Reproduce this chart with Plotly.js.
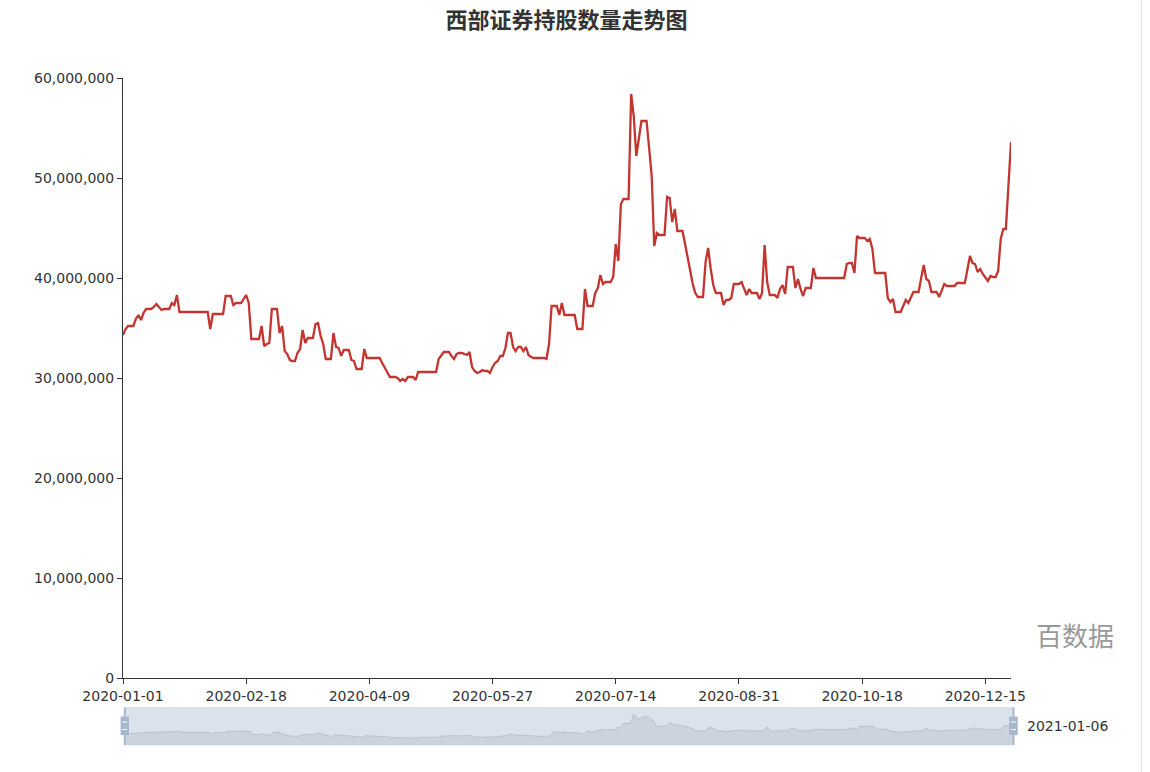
<!DOCTYPE html>
<html>
<head>
<meta charset="utf-8">
<script src="https://cdn.plot.ly/plotly-3.0.1.min.js"></script>
<style>
  html, body { margin: 0; padding: 0; background: #fff; }
  #chart { width: 1150px; height: 772px; }
</style>
</head>
<body>
<div id="chart"></div>
<script>
// ---- data (holding, in millions of shares, one value per category) ----
const holdingMillions = [
  34.3, 34.9, 35.2, 35.2, 35.2, 35.9, 36.3, 35.8, 36.5, 36.9,
  36.9, 36.9, 37.1, 37.4, 37.1, 36.8, 36.9, 36.9, 36.9, 37.5,
  37.3, 38.3, 36.6, 36.6, 36.6, 36.6, 36.6, 36.6, 36.6, 36.6,
  36.6, 36.6, 36.6, 36.6, 34.9, 36.4, 36.4, 36.4, 36.4, 36.4,
  38.2, 38.2, 38.2, 37.3, 37.5, 37.5, 37.5, 37.9, 38.3, 37.5,
  33.9, 33.9, 33.9, 33.9, 35.2, 33.2, 33.4, 33.5, 36.9, 36.9,
  36.9, 34.5, 35.2, 32.7, 32.4, 31.8, 31.7, 31.7, 32.5, 32.9,
  34.8, 33.5, 34.0, 34.0, 34.0, 35.4, 35.5, 34.2, 33.4, 31.9,
  31.9, 31.9, 34.5, 33.1, 33.0, 32.2, 32.8, 32.8, 32.8, 31.8,
  31.7, 30.9, 30.9, 30.9, 32.9, 32.0, 32.0, 32.0, 32.0, 32.0,
  32.0, 31.5, 31.0, 30.5, 30.1, 30.1, 30.1, 30.0, 29.7, 29.9,
  29.7, 30.1, 30.1, 30.1, 29.8, 30.6, 30.6, 30.6, 30.6, 30.6,
  30.6, 30.6, 30.6, 31.9, 32.2, 32.6, 32.6, 32.6, 32.2, 31.9,
  32.4, 32.5, 32.5, 32.4, 32.3, 32.6, 31.1, 30.7, 30.5, 30.6,
  30.8, 30.7, 30.7, 30.5, 31.1, 31.5, 31.7, 32.2, 32.2, 33.0,
  34.5, 34.5, 33.1, 32.7, 33.1, 33.1, 32.7, 33.1, 32.3, 32.1,
  32.0, 32.0, 32.0, 32.0, 32.0, 31.9, 33.4, 37.2, 37.2, 37.2,
  36.3, 37.5, 36.3, 36.3, 36.3, 36.3, 36.3, 34.9, 34.9, 34.9,
  38.9, 37.2, 37.2, 37.2, 38.5, 39.0, 40.3, 39.4, 39.6, 39.6,
  39.6, 40.1, 43.4, 41.7, 47.4, 47.9, 47.9, 47.9, 58.4, 56.2,
  52.2, 54.0, 55.7, 55.7, 55.7, 53.0, 50.2, 43.2, 44.5, 44.3,
  44.3, 44.3, 48.1, 48.0, 45.6, 46.9, 44.7, 44.7, 44.7, 43.4,
  42.1, 40.9, 39.4, 38.5, 38.1, 38.1, 38.1, 41.6, 43.0, 40.9,
  39.3, 38.5, 38.5, 38.5, 37.3, 37.8, 37.8, 38.0, 39.4, 39.4,
  39.4, 39.6, 38.9, 38.3, 38.9, 38.5, 38.5, 38.5, 37.9, 38.5,
  43.3, 39.6, 38.3, 38.3, 38.3, 38.0, 38.9, 39.3, 38.4, 41.1,
  41.1, 41.1, 39.0, 39.9, 38.9, 38.2, 39.0, 39.0, 39.0, 41.0,
  40.0, 40.0, 40.0, 40.0, 40.0, 40.0, 40.0, 40.0, 40.0, 40.0,
  40.0, 40.0, 41.4, 41.5, 41.5, 40.5, 44.2, 44.0, 44.0, 44.0,
  43.7, 43.9, 42.9, 40.5, 40.5, 40.5, 40.5, 40.5, 38.0, 37.6,
  37.9, 36.6, 36.6, 36.6, 37.2, 37.8, 37.5, 38.0, 38.6, 38.6,
  38.6, 40.0, 41.3, 39.9, 39.7, 38.6, 38.6, 38.6, 38.1, 38.8,
  39.4, 39.2, 39.2, 39.2, 39.2, 39.5, 39.5, 39.5, 39.5, 40.8,
  42.2, 41.5, 41.4, 40.6, 40.9, 40.4, 40.1, 39.7, 40.2, 40.1,
  40.1, 40.7, 43.9, 44.9, 44.9, 49.2, 53.6
];
// x tick labels (every 48th category) and the last category label
const tickLabels = ["2020-01-01", "2020-02-18", "2020-04-09", "2020-05-27",
                    "2020-07-14", "2020-08-31", "2020-10-18", "2020-12-15"];
const lastCategoryLabel = "2021-01-06";
const chartTitle = "西部证券持股数量走势图";
const watermark = "百数据";

// ---- derived ----
const categoryIndex = holdingMillions.map((_, i) => i);
const shares = holdingMillions.map(v => Math.round(v * 1e6));
const tickStep = 48;
const tickVals = tickLabels.map((_, j) => j * tickStep);
const lastIdx = holdingMillions.length - 1;

// ---- pixel helpers (paper spans x 123..1014, y 78..752) ----
const L = 123, R = 1014, T = 78, B = 752;
const px = x => (x - L) / (R - L);
const py = y => (B - y) / (B - T);

const mn = Math.min(...shares), mx = Math.max(...shares);
const off = (mx - mn) * 0.3;

const tickFont = {family: "DejaVu Sans, sans-serif", size: 14, color: "#333"};

const traces = [
  {
    x: categoryIndex, y: shares, type: "scatter", mode: "lines",
    line: {color: "#c23531", width: 2.3},
    xaxis: "x", yaxis: "y", hoverinfo: "y"
  },
  {
    x: categoryIndex, y: shares, type: "scatter", mode: "lines",
    fill: "tozeroy", fillcolor: "rgba(47,69,84,0.09)",
    line: {color: "rgba(47,69,84,0.3)", width: 0.5},
    xaxis: "x2", yaxis: "y2", hoverinfo: "skip"
  }
];

function handle(xc) {
  return [
    {type: "rect", xref: "paper", yref: "paper", x0: px(xc - 1), x1: px(xc + 1), y0: py(745), y1: py(707.5),
     fillcolor: "#a7b7cc", line: {width: 0}, layer: "above"},
    {type: "rect", xref: "paper", yref: "paper", x0: px(xc - 4.2), x1: px(xc + 4.2), y0: py(735), y1: py(716.5),
     fillcolor: "#a7b7cc", line: {width: 0}, layer: "above"},
    {type: "line", xref: "paper", yref: "paper", x0: px(xc - 2.4), x1: px(xc + 2.4), y0: py(722), y1: py(722),
     line: {color: "#fff", width: 1}, layer: "above"},
    {type: "line", xref: "paper", yref: "paper", x0: px(xc - 2.4), x1: px(xc + 2.4), y0: py(729.5), y1: py(729.5),
     line: {color: "#fff", width: 1}, layer: "above"}
  ];
}

const layout = {
  width: 1150, height: 772,
  margin: {l: L, r: 1150 - R, t: T, b: 772 - B, pad: 0},
  paper_bgcolor: "#fff", plot_bgcolor: "rgba(0,0,0,0)",
  showlegend: false,
  title: {
    text: chartTitle,
    font: {family: "Noto Sans CJK SC, sans-serif", size: 22, color: "#333", weight: "bold"},
    xref: "paper", x: px(566.5), xanchor: "center",
    yref: "container", y: 1 - 20 / 772, yanchor: "middle"
  },
  xaxis: {
    domain: [0, px(1011)],
    range: [0, lastIdx],
    tickvals: tickVals, ticktext: tickLabels,
    showline: true, linecolor: "#333", linewidth: 1,
    ticks: "outside", ticklen: 5, tickcolor: "#333", tickwidth: 1,
    showgrid: false, zeroline: false,
    tickfont: tickFont, fixedrange: true
  },
  yaxis: {
    domain: [py(678), 1],
    range: [0, 60e6], dtick: 10e6, tick0: 0,
    tickformat: ",d",
    showline: true, linecolor: "#333", linewidth: 1,
    ticks: "outside", ticklen: 5, tickcolor: "#333", tickwidth: 1,
    showgrid: false, zeroline: false,
    tickfont: tickFont, fixedrange: true
  },
  xaxis2: {
    domain: [px(124.8), px(1013.5)], anchor: "y2",
    range: [0, lastIdx],
    showline: false, showticklabels: false, showgrid: false, zeroline: false, ticks: "",
    fixedrange: true
  },
  yaxis2: {
    domain: [py(745), py(707.5)], anchor: "x2",
    range: [mn - off, mx + off],
    showline: false, showticklabels: false, showgrid: false, zeroline: false, ticks: "",
    fixedrange: true
  },
  shapes: [
    {type: "rect", xref: "paper", yref: "paper", x0: px(124.8), x1: px(1013.5), y0: py(745), y1: py(707.5),
     fillcolor: "rgba(167,183,204,0.4)", line: {color: "#dde3ec", width: 1}, layer: "below"},
    ...handle(124.8),
    ...handle(1013.5),
    {type: "line", xref: "paper", yref: "paper", x0: px(1141.5), x1: px(1141.5), y0: py(0), y1: py(772),
     line: {color: "#cfe8ee", width: 1}}
  ],
  annotations: [
    {text: lastCategoryLabel, xref: "paper", yref: "paper", x: px(1025), y: py(726),
     xanchor: "left", yanchor: "middle", showarrow: false, font: tickFont},
    {text: watermark, xref: "paper", yref: "paper", x: px(1034), y: py(634),
     xanchor: "left", yanchor: "middle", showarrow: false,
     font: {family: "Noto Sans CJK SC, sans-serif", size: 26, color: "#999"}}
  ]
};

Plotly.newPlot("chart", traces, layout, {displayModeBar: false, staticPlot: true});
</script>
</body>
</html>
